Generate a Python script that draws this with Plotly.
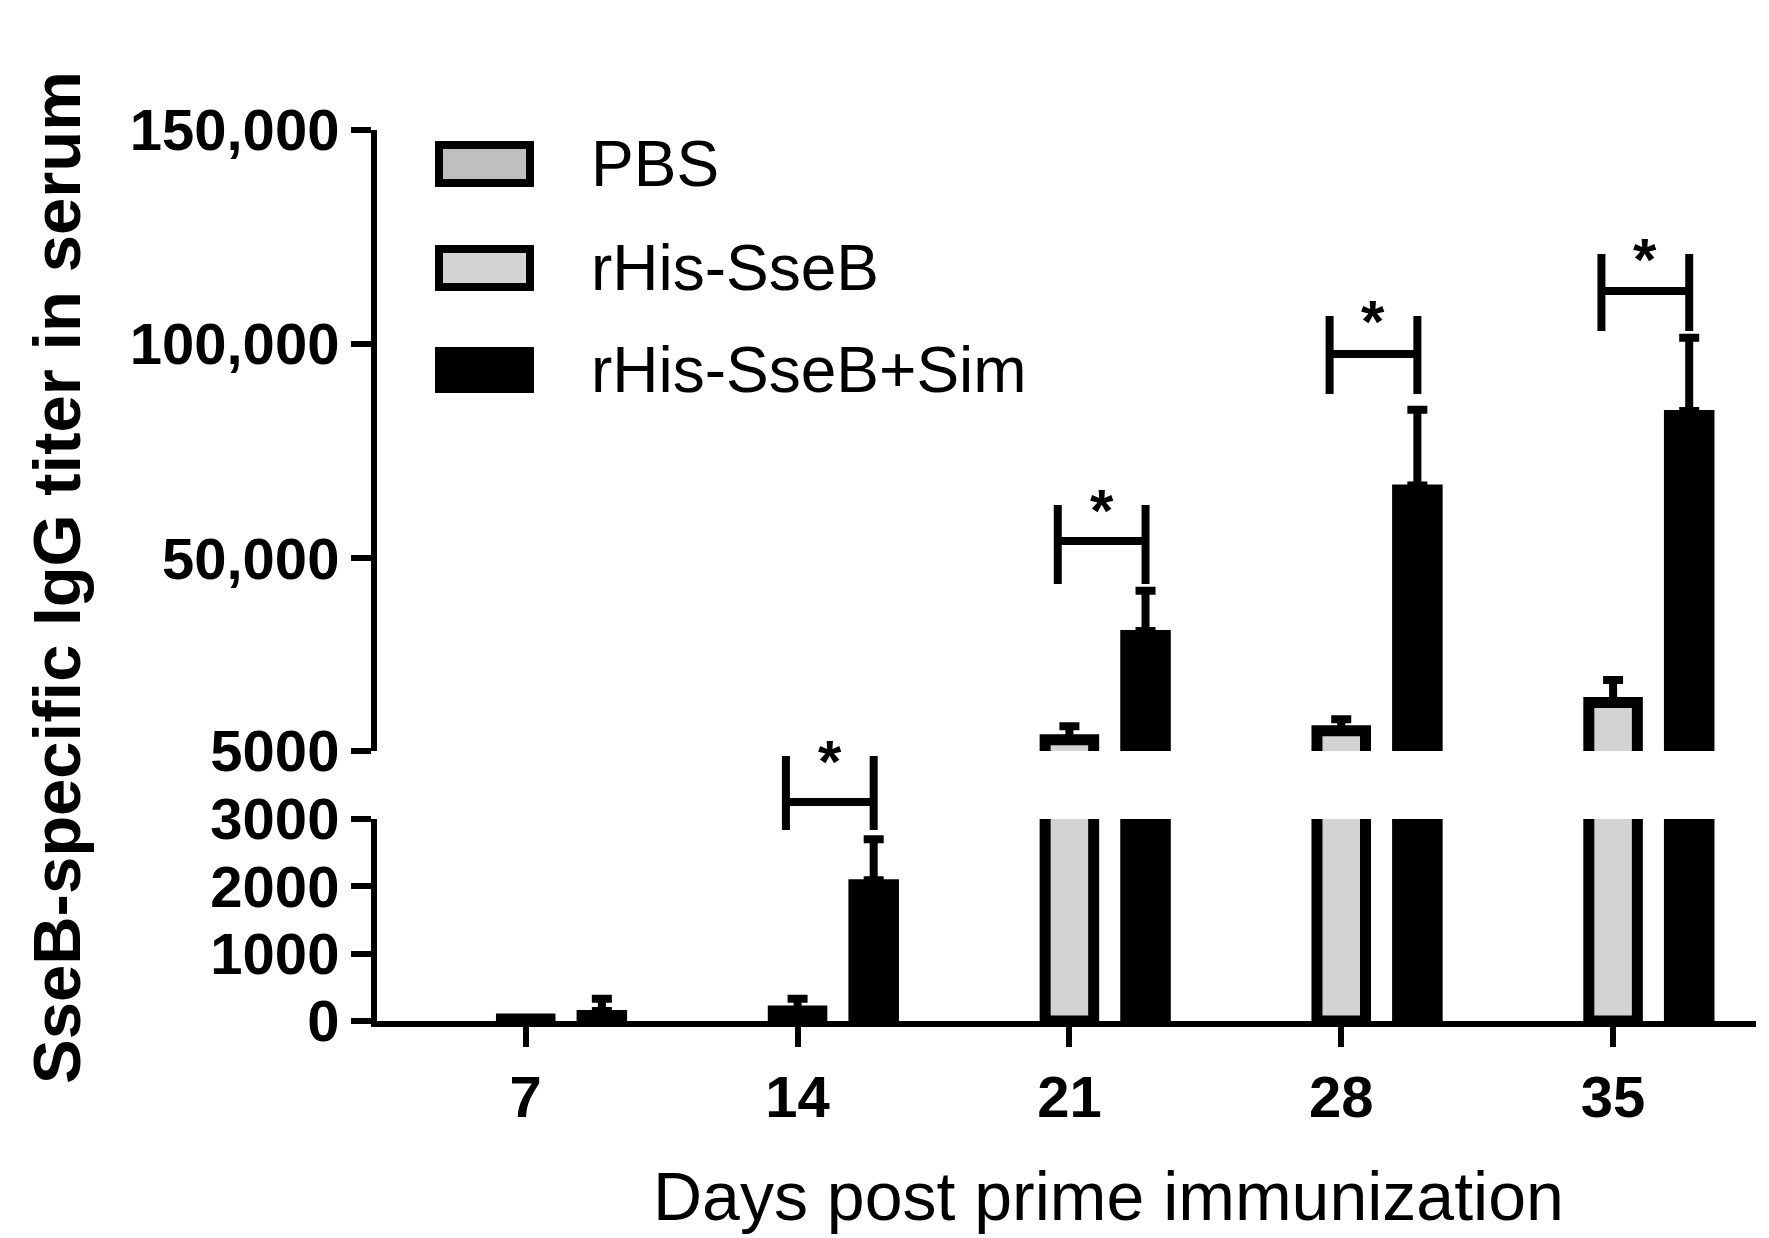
import plotly.graph_objects as go

days = [7, 14, 21, 28, 35]
pbs = [0, 0, 0, 0, 0]
sseb = [30, 150, 7600, 9700, 16300]
sseb_err = [0, 180, 3200, 2700, 5300]
sim = [150, 2090, 33000, 67000, 84400]
sim_err = [180, 610, 9400, 17700, 17100]
lower_ticks = [0, 1000, 2000, 3000]
lower_labels = ["0", "1000", "2000", "3000"]
upper_ticks = [5000, 50000, 100000, 150000]
upper_labels = ["5000", "50,000", "100,000", "150,000"]
sig_days = [14, 21, 28, 35]

OFF = 1.96
W = 1.25
FONT = "Liberation Sans, Arial, sans-serif"

fig = go.Figure()
for ya in ["y", "y2"]:
    fig.add_trace(go.Bar(x=[d - OFF for d in days], y=pbs, width=W, yaxis=ya,
                         marker=dict(color="white", line=dict(color="black", width=0)),
                         showlegend=False))
    fig.add_trace(go.Bar(x=days, y=sseb, width=W, yaxis=ya,
                         marker=dict(color="#d3d3d3", line=dict(color="black", width=11)),
                         error_y=dict(type="data", array=sseb_err, arrayminus=[0]*5, symmetric=False,
                                      color="black", thickness=8, width=10),
                         showlegend=False))
    fig.add_trace(go.Bar(x=[d + OFF for d in days], y=sim, width=W, yaxis=ya,
                         marker=dict(color="black", line=dict(color="black", width=2)),
                         error_y=dict(type="data", array=sim_err, arrayminus=[0]*5, symmetric=False,
                                      color="black", thickness=8, width=10),
                         showlegend=False))

H = 891.0
def py(p):
    return (1013 - p) / H

shapes = []
ann = []
brk = [(748, 822, 794), (497, 576, 533), (308, 386, 346), (246, 323, 283)]
for d, (t, b, h) in zip(sig_days, brk):
    x0, x1 = d - 0.3, d + OFF
    ln = dict(color="black", width=8)
    shapes.append(dict(type="line", xref="x", yref="paper", x0=x0, x1=x0, y0=py(t), y1=py(b), line=ln))
    shapes.append(dict(type="line", xref="x", yref="paper", x0=x1, x1=x1, y0=py(t), y1=py(b), line=ln))
    shapes.append(dict(type="line", xref="x", yref="paper", x0=x0, x1=x1, y0=py(h), y1=py(h), line=ln))
    ann.append(dict(text="<b>*</b>", xref="x", yref="paper", x=(x0 + x1) / 2, y=py(t - 30),
                    yanchor="top", showarrow=False, font=dict(size=60, family=FONT, color="black")))

leg = [("PBS", "#bfbfbf", 156), ("rHis-SseB", "#d3d3d3", 260), ("rHis-SseB+Sim", "black", 362)]
for name, col, yc in leg:
    shapes.append(dict(type="rect", xref="paper", yref="paper",
                       x0=(431 - 369) / 1379, x1=(522 - 369) / 1379,
                       y0=py(yc + 19), y1=py(yc - 19), fillcolor=col,
                       line=dict(color="black", width=8)))
    ann.append(dict(text=name, xref="paper", yref="paper", x=(581 - 369) / 1379, y=py(yc),
                    xanchor="left", yanchor="middle", showarrow=False,
                    font=dict(size=64, family=FONT, color="black")))

ann.append(dict(text="Days post prime immunization", xref="paper", yref="paper",
                x=(1100 - 369) / 1379, y=py(1188), xanchor="center", yanchor="middle", showarrow=False,
                font=dict(size=68, family=FONT, color="black")))
ann.append(dict(text="<b>SseB-specific IgG titer in serum</b>", xref="paper", yref="paper",
                x=(48 - 369) / 1379, y=py(570), textangle=-90, xanchor="center", yanchor="middle",
                showarrow=False, font=dict(size=67, family=FONT, color="black")))

tickfont = dict(size=58, family=FONT, color="black")
fig.update_layout(
    width=1769, height=1238, barmode="overlay",
    margin=dict(l=369, r=21, t=122, b=225),
    plot_bgcolor="white", paper_bgcolor="white",
    shapes=shapes, annotations=ann, showlegend=False,
    xaxis=dict(range=[3.17, 38.68], tickvals=days, ticktext=[f"<b>{d}</b>" for d in days],
               tickfont=tickfont, ticks="outside", ticklen=20, tickwidth=6, tickcolor="black",
               showline=True, linewidth=6, linecolor="black", showgrid=False, zeroline=False,
               anchor="y", fixedrange=True),
    yaxis=dict(domain=[0, (1013 - 811) / H], range=[0, 3000], tickvals=lower_ticks,
               ticktext=[f"<b>{t}</b>" for t in lower_labels], tickfont=tickfont,
               ticks="outside", ticklen=20, tickwidth=6, tickcolor="black",
               showline=True, linewidth=6, linecolor="black", showgrid=False, zeroline=False),
    yaxis2=dict(domain=[(1013 - 743) / H, 1], range=[5000, 150000], tickvals=upper_ticks,
                ticktext=[f"<b>{t}</b>" for t in upper_labels], tickfont=tickfont,
                ticks="outside", ticklen=20, tickwidth=6, tickcolor="black",
                showline=True, linewidth=6, linecolor="black", showgrid=False, zeroline=False,
                anchor="x"),
)

fig.write_html("out.html")
